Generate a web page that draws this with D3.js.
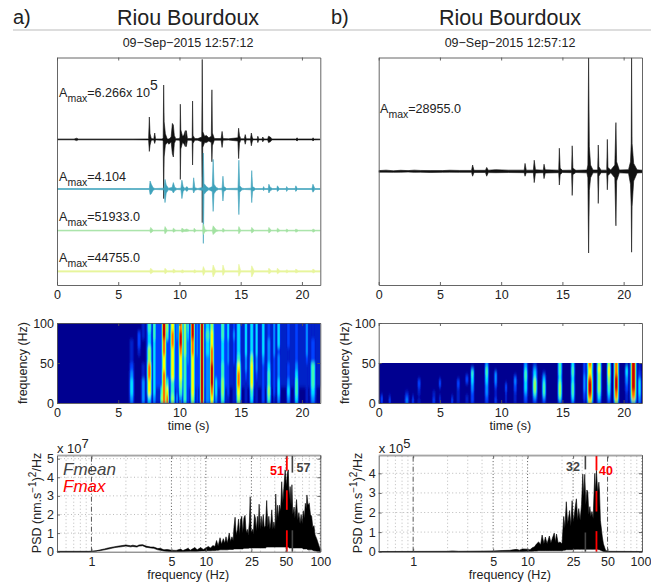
<!DOCTYPE html>
<html>
<head>
<meta charset="utf-8">
<script src="https://cdn.jsdelivr.net/npm/d3@7"></script>
<style>
html, body { margin: 0; padding: 0; background: #fff; }
svg { display: block; }
text { font-family: "Liberation Sans", Arial, sans-serif; fill: #222; }
.axis path, .axis line { stroke: #555; stroke-width: 0.9; }
.axis text { font-size: 12.5px; fill: #222; }
</style>
</head>
<body>
<div id="chart"></div>
<script>
// waveform envelopes: [time s, amplitude above baseline, amplitude below baseline]
var traceBlack = [[0,0.5,0.5],[1.4,0.5,0.5],[1.6,1.5,1.5],[1.75,0.5,0.5],[6.2,0.5,0.5],[7.48,0.6,0.6],[7.54,28,15],[7.6,7,7],[7.7,1,1],[7.9,0.6,0.6],[7.98,8,5],[8.05,0.6,0.6],[8.6,0.6,1],[8.67,2,2],[8.71,68,74],[8.75,22,22],[8.85,7,7],[9,0.6,4],[9.15,0.6,6],[9.32,3,3],[9.42,20,18],[9.5,18,22],[9.58,5,5],[9.7,0.8,0.8],[10,1,1],[10.04,3,3],[10.07,44,50],[10.11,12,12],[10.25,4,4],[10.35,5,5],[10.48,11,9],[10.52,2,2],[10.56,11,9],[10.65,1,1],[11,1,1],[11.04,3,3],[11.07,48,32],[11.11,5,5],[11.25,1,1],[11.5,1,1],[11.82,3,3],[11.86,100,104],[11.9,10,10],[12.05,4,4],[12.2,5,4],[12.4,2,2],[12.6,4,4],[12.65,62,28],[12.69,8,8],[12.85,1,1],[13.4,1,1],[13.48,10,10],[13.56,1,1],[14,0.8,0.8],[14.77,2,2],[14.83,14,24],[14.9,5,5],[15,0.8,0.8],[15.3,0.8,0.8],[15.37,6,6],[15.45,0.8,0.8],[15.8,0.8,0.8],[15.87,8,8],[15.95,2,2],[16.05,0.6,0.6],[16.35,0.6,0.6],[16.4,4,4],[16.48,0.6,0.6],[16.75,0.6,0.6],[16.8,3,3],[16.9,0.6,0.6],[17.2,0.6,0.6],[17.27,4,4],[17.42,3,3],[17.55,0.6,0.6],[19.5,0.6,0.6],[19.6,2,2],[19.7,0.6,0.6],[20.85,0.6,0.6],[20.9,2,2],[21,0.6,0.6],[21.5,0.5,0.5]];
var traceTeal = [[0,0.5,0.5],[7.54,0.6,0.6],[7.6,10,7],[7.7,6,6],[7.85,1.5,1.5],[8.0,0.6,0.6],[8.74,1,1],[8.82,12,17],[8.92,5,5],[9.1,1,1],[9.4,2,2],[9.5,8,5],[9.62,2,2],[9.8,0.6,0.6],[10.12,1,1],[10.2,11,12],[10.3,3,3],[10.45,0.6,0.6],[10.6,3,3],[10.75,0.6,0.6],[11.1,1,1],[11.16,14,5],[11.26,1.5,1.5],[11.5,0.6,0.6],[11.9,2,2],[11.95,45,68],[12,7,7],[12.2,3,3],[12.4,1,1],[12.68,3,3],[12.75,37,28],[12.82,6,6],[13,2,2],[13.2,0.6,0.6],[13.48,1,1],[13.55,16,15],[13.62,3,3],[13.85,0.6,0.6],[14.78,1,1],[14.85,36,32],[14.92,4,4],[15.1,1,1],[15.3,0.6,0.6],[15.85,1,1],[15.9,23,17],[15.97,3,3],[16.2,0.6,0.6],[16.82,0.6,0.6],[16.87,3,2],[16.95,0.6,0.6],[17.25,0.6,0.6],[17.3,6,5],[17.42,2,2],[17.6,0.6,0.6],[17.95,0.6,0.6],[18,4,3],[18.15,0.6,0.6],[18.72,0.6,0.6],[18.75,3,3],[18.85,0.6,0.6],[19.45,0.6,0.6],[19.5,4,3],[19.62,0.6,0.6],[20.82,0.6,0.6],[20.9,6,4],[21.05,0.6,0.6],[21.5,0.5,0.5]];
var traceGreen = [[0,0.5,0.5],[7.58,0.5,0.5],[7.65,4,3],[7.85,0.5,0.5],[8.77,0.5,0.5],[8.82,5,4],[9,0.5,0.5],[9.45,0.5,0.5],[9.5,3,2],[9.7,0.5,0.5],[10.15,0.5,0.5],[10.2,3,2],[10.4,1,1],[10.6,2,1],[10.8,0.5,0.5],[11.16,0.5,0.5],[11.2,3,2],[11.35,0.5,0.5],[11.9,0.5,0.5],[11.95,8,5],[12.1,1,1],[12.3,0.5,0.5],[12.68,0.5,0.5],[12.75,6,5],[13,1,1],[13.2,0.5,0.5],[13.5,0.5,0.5],[13.55,3,2],[13.7,0.5,0.5],[14.8,0.5,0.5],[14.85,5,4],[15,0.5,0.5],[15.85,0.5,0.5],[15.9,4,3],[16.1,0.5,0.5],[17.25,0.5,0.5],[17.3,4,3],[17.5,0.5,0.5],[17.95,0.5,0.5],[18,3,2],[18.2,0.5,0.5],[18.7,0.5,0.5],[18.75,2,2],[18.9,0.5,0.5],[19.45,0.5,0.5],[19.5,2,2],[19.7,0.5,0.5],[20.85,0.5,0.5],[20.9,2,2],[21.1,0.5,0.5],[21.5,0.5,0.5]];
var traceYellow = [[0,0.9,0.9],[7.58,0.9,0.9],[7.65,4,3],[7.85,0.9,0.9],[8.77,0.9,0.9],[8.82,4,3],[9,0.9,0.9],[9.45,0.9,0.9],[9.5,3,2],[9.7,0.9,0.9],[10.15,0.9,0.9],[10.2,2,2],[10.4,0.9,0.9],[11.15,0.9,0.9],[11.2,2,2],[11.4,0.9,0.9],[11.88,0.9,0.9],[11.95,6,5],[12.1,0.9,0.9],[12.68,0.9,0.9],[12.75,8,7],[12.95,0.9,0.9],[13.5,0.9,0.9],[13.55,8,5],[13.7,0.9,0.9],[14.8,0.9,0.9],[14.85,9,6],[15,0.9,0.9],[15.85,0.9,0.9],[15.9,7,7],[16.1,0.9,0.9],[17.25,0.9,0.9],[17.3,4,3],[17.5,0.9,0.9],[17.95,0.9,0.9],[18,4,3],[18.2,0.9,0.9],[18.7,0.9,0.9],[18.75,2,2],[18.9,0.9,0.9],[19.45,0.9,0.9],[19.5,3,2],[19.7,0.9,0.9],[20.85,0.9,0.9],[20.9,3,2],[21.1,0.9,0.9],[21.5,0.9,0.9]];
var traceB = [[0,1,1],[0.6,1.6,1],[1.2,0.8,1.2],[1.8,1.4,1],[2.4,1,0.8],[2.9,1.6,1.2],[3.4,1.2,1],[4.2,1,1.4],[5.2,1,1.2],[5.8,1.5,1],[6.6,1.2,1.2],[7.58,1.2,1.2],[7.67,8,6],[7.78,1.4,1.4],[8.72,1.4,1.4],[8.82,5,6],[8.95,1.5,1.5],[9.55,2.2,1.6],[10.6,1.6,1.4],[11.88,1.6,1.6],[11.95,10,6],[12.05,1.6,1.6],[12.63,1.6,1.6],[12.7,14,14],[12.8,2,2],[13.44,1.6,1.6],[13.5,9,9],[13.6,2,2],[14.7,1.6,1.6],[14.75,29,17],[14.82,4,4],[15,1.4,1.4],[15.75,1.6,1.6],[15.8,32,30],[15.86,4,4],[16.1,1.4,1.4],[17,1.8,1.8],[17.08,8,8],[17.14,142,102],[17.2,31,24],[17.3,8,8],[17.5,1.8,1.8],[17.88,1.8,1.8],[17.93,33,40],[17.98,6,6],[18.15,1.6,1.6],[18.62,1.6,1.6],[18.67,40,23],[18.72,5,5],[18.95,1.8,1.8],[19.28,8,8],[19.37,61,68],[19.43,12,12],[19.65,1.8,1.8],[20.4,2.2,2.2],[20.56,12,16],[20.62,35,44],[20.65,142,101],[20.69,35,44],[20.82,10,12],[21.1,2,2],[21.5,1.6,1.6]];
var traceBase = [182, 120, 68, 17];
var traceBaseB = [142];
var traceColors = ["#111111", "#3fa3bc", "#a3e2a2", "#e8f59c"];

var amaxValues = ["=6.266x 10", "=4.104", "=51933.0", "=44755.0"];
var amaxValuesB = ["=28955.0"];

// spectrogram streaks: [time s, width s, one digit per frequency band low to high]
var specA = [[14.5,14.5,"0011111111"],[11,6,"1122222222"],[6.1,0.28,"3443211100"],[6.7,0.22,"0000001220"],[7.05,0.25,"3331100011"],[7.54,0.3,"4778866445"],[7.95,0.22,"3444444455"],[8.55,0.2,"6522112222"],[8.74,0.3,"8888778899"],[9,0.22,"8752222256"],[9.44,0.3,"6557777887"],[9.8,0.15,"3222122233"],[10.1,0.28,"3567778998"],[10.45,0.26,"5555556666"],[10.7,0.12,"2222233345"],[11.08,0.28,"6777778899"],[11.45,0.12,"2222223333"],[11.84,0.26,"9999999999"],[12.3,0.35,"3333334454"],[12.65,0.28,"7899988776"],[13,0.2,"3442222222"],[13.53,0.28,"5665544455"],[13.98,0.18,"1222233344"],[14.45,0.2,"1111122232"],[14.83,0.3,"6788754444"],[15.43,0.2,"1112334444"],[15.9,0.26,"4577764444"],[16.3,0.18,"1112334444"],[16.84,0.22,"2222234444"],[17.3,0.26,"5655433322"],[17.74,0.18,"1222223333"],[18.1,0.22,"3443332444"],[18.9,0.24,"3432211222"],[19.56,0.26,"4554322222"],[20.4,0.2,"1111123333"],[20.9,0.34,"3455522211"]];
var specB = [[0.25,0.15,"2200000000"],[0.9,0.15,"2100000000"],[2.3,0.25,"3210000000"],[2.8,0.15,"2100000000"],[3.3,0.2,"1011220000"],[4.5,0.2,"2110000000"],[5,0.15,"1100220000"],[6,0.15,"2100000000"],[6.5,0.2,"1111220000"],[7.2,0.2,"1100022000"],[7.65,0.22,"2223344530"],[8.82,0.24,"2233344553"],[9.55,0.18,"2111233300"],[10.4,0.15,"1112200000"],[11.15,0.2,"1112232000"],[12,0.25,"2234445543"],[12.75,0.28,"2356664431"],[13.5,0.24,"2355543100"],[14.8,0.26,"3566654555"],[15.85,0.24,"3455544554"],[16.8,0.18,"1223333222"],[17.25,0.36,"7899998778"],[18,0.28,"3456666676"],[18.8,0.24,"2345566776"],[19.4,0.3,"6889999888"],[20.25,0.22,"1112233441"],[20.8,0.36,"5889999999"],[21.3,0.2,"3344442211"]];
var jetStops = [0, 2, 4, 5.5, 7, 8, 9];
var jetColors = ["#000090", "#0040ff", "#00e0ff", "#60ff90", "#ffff00", "#ff7000", "#c80000"];
// each streak is painted as nested cells so it fades through the colour map
var streakLevels = [0.2, 0.45, 0.7, 0.88, 1];
var streakWidths = [1.8, 1.35, 1, 0.78, 0.55];

// PSD envelopes: [frequency Hz, upper, lower] in units of the axis multiplier
var psdA = [[0.5,0.02,0],[0.95,0.02,0],[1,0.03,0.01],[1.1,0.05,0.03],[1.2,0.1,0.06],[1.3,0.15,0.1],[1.4,0.2,0.14],[1.6,0.27,0.22],[1.8,0.32,0.26],[2,0.36,0.3],[2.2,0.32,0.26],[2.3,0.35,0.28],[2.5,0.3,0.25],[2.6,0.36,0.3],[2.8,0.38,0.32],[3,0.3,0.24],[3.3,0.25,0.2],[3.5,0.25,0.18],[3.8,0.17,0.1],[4,0.18,0.08],[4.3,0.1,0.04],[4.6,0.12,0.02],[5,0.08,0.01],[5.5,0.07,0.01],[6,0.14,0.01],[6.3,0.06,0.01],[7,0.18,0.02],[7.3,0.08,0.02],[8,0.22,0.02],[8.4,0.1,0.02],[9,0.22,0.04],[9.5,0.12,0.04],[10,0.2,0.05],[10.5,0.28,0.05],[11,0.2,0.05],[11.5,0.33,0.06],[12,0.28,0.06],[12.4,0.6,0.08],[12.8,0.3,0.08],[13.3,0.75,0.1],[13.7,0.4,0.1],[14.2,0.7,0.1],[14.6,0.45,0.1],[15,0.8,0.1],[15.4,0.45,0.1],[16,1,0.12],[16.4,0.55,0.12],[16.9,0.8,0.12],[17.3,0.6,0.12],[17.6,1.3,0.15],[18,1.85,0.15],[18.4,0.9,0.15],[18.9,1.2,0.15],[19.3,1.75,0.15],[19.7,0.9,0.15],[20.1,1.7,0.15],[20.6,1.9,0.15],[21,1,0.15],[21.5,1.8,0.18],[22,1.95,0.18],[22.5,1,0.18],[23,1.2,0.18],[23.5,0.9,0.18],[24,1.6,0.2],[24.4,2.95,0.2],[24.9,1,0.2],[25.5,1.2,0.2],[26,0.95,0.2],[26.6,2,0.2],[27.1,1.8,0.2],[27.6,1.1,0.2],[28.2,1.9,0.2],[28.7,1.2,0.2],[29.2,2.55,0.2],[29.8,1.2,0.2],[30.4,1.9,0.2],[31,1.3,0.2],[31.7,2,0.2],[32.4,1.3,0.2],[33.2,1.4,0.2],[34,2.75,0.25],[34.8,1.3,0.25],[35.5,1.9,0.25],[36.3,1.2,0.25],[37,1.6,0.25],[37.7,2.25,0.25],[38.5,1.2,0.25],[39.3,1.6,0.25],[40.2,1.2,0.25],[40.8,3.1,0.25],[41.6,1.6,0.25],[42.4,2.5,0.25],[43.2,1.8,0.25],[44,2.5,0.25],[45,2.2,0.25],[46,3.76,0.25],[47,2.6,0.25],[48,3.4,0.25],[49.3,4.4,0.25],[50.5,3.5,0.25],[51.5,4.2,0.25],[52.5,4.4,0.25],[53.5,2.8,0.2],[54.5,3.5,0.2],[55.5,2.5,0.2],[56.5,3.6,0.2],[57.5,2,0.2],[59,2.4,0.2],[60,1.8,0.2],[61,2.3,0.2],[62,2.8,0.2],[63.5,1.7,0.2],[65,2.1,0.2],[66.5,1.5,0.2],[68,2,0.2],[69.5,1.5,0.2],[71,2.2,0.15],[72.5,1.8,0.15],[74,2.6,0.15],[75.5,2.3,0.15],[76.4,3.05,0.15],[78,2.5,0.1],[80,2.6,0.1],[82,2,0.1],[84,1.9,0.1],[86,1.3,0.08],[88,1.4,0.05],[90,0.9,0.05],[93,0.7,0.03],[97,0.35,0.02],[100,0.12,0.01]];
var psdB = [[0.5,0.01,0],[2,0.02,0],[2.2,0.04,0],[2.5,0.02,0],[4,0.03,0],[5,0.04,0],[6,0.06,0.01],[7,0.07,0.01],[8,0.12,0.01],[8.5,0.08,0.01],[9,0.14,0.01],[10,0.13,0.02],[10.5,0.1,0.02],[11,0.2,0.02],[11.5,0.25,0.03],[12,0.4,0.03],[12.5,0.5,0.05],[13,0.35,0.05],[13.4,0.85,0.05],[13.9,0.4,0.05],[14.3,0.75,0.05],[14.8,0.4,0.05],[15.5,0.8,0.05],[16,0.45,0.05],[16.5,0.7,0.05],[17.1,0.95,0.05],[17.5,0.5,0.05],[17.9,0.9,0.05],[18.5,0.45,0.05],[19.2,0.5,0.05],[20,0.4,0.05],[20.7,1.8,0.08],[21.2,1.2,0.08],[21.8,2.55,0.1],[22.4,1.4,0.1],[23.3,2.1,0.1],[23.9,1.3,0.1],[24.5,2.6,0.1],[25.2,1.5,0.12],[26,2.2,0.12],[26.7,2.7,0.12],[27.4,1.6,0.12],[28,2.2,0.12],[28.8,1.6,0.12],[29.6,2.4,0.12],[30.4,3.96,0.12],[31,2.8,0.12],[31.6,3.95,0.12],[32.3,2.4,0.12],[33,3.15,0.12],[33.6,3.05,0.12],[34.3,1.9,0.12],[35,2.3,0.12],[35.7,1.8,0.12],[36.5,2.05,0.12],[37.4,1.7,0.12],[38.1,3,0.12],[38.7,4,0.12],[39.3,3,0.12],[40,4.15,0.12],[41,3,0.12],[42,3.55,0.1],[42.5,3.1,0.1],[43.3,1.6,0.08],[45,0.75,0.03],[46,0.4,0.01],[48,0.08,0],[50,0.02,0],[100,0.01,0]];
var psdTicksX = [1, 5, 10, 25, 50, 100];
var psdMajorGrid = [1];
var psdMajorGridB = [1, 50];
var psdMidGrid = [5, 10, 25, 50, 100];
var psdMidGridB = [5, 10, 25, 100];
var psdMinorGrid = [0.6, 0.7, 0.8, 0.9, 2, 3, 4, 6, 7, 8, 9, 20, 30, 40, 60, 70, 80, 90];
var psdTicksYA = [0, 1, 2, 3, 4, 5];
var psdTicksYB = [0, 1, 2, 3, 4];

// marker lines, pieces of [top, bottom] left visible by the spectrum
var fmaxPiecesA = [[5.2, 4.35], [3.3, 2.25], [1.15, 0]];
var fmeanPiecesA = [[5.2, 4.25], [1.15, 0]];
var fmaxPiecesB = [[4.92, 4.15], [3.1, 2.05], [1.05, 0]];
var fmeanPiecesB = [[4.92, 4.2], [0.98, 0]];

var width = 651, height = 587;
var panelW = 263.3;
var timeTicks = [0, 5, 10, 15, 20];

var svg = d3.select("#chart").append("svg")
    .attr("width", width)
    .attr("height", height);

var defs = svg.append("defs");
defs.append("filter")
    .attr("id", "streakBlur")
    .attr("filterUnits", "userSpaceOnUse")
    .attr("x", 0).attr("y", 300).attr("width", width).attr("height", 130)
    .append("feGaussianBlur")
    .attr("stdDeviation", "0.45 2");

var jet = d3.scaleLinear().domain(jetStops).range(jetColors);

function frameAxes(g, x, y, ticksX, ticksY, labelY) {
    var w = x.range()[1] - x.range()[0];
    var top = y.range()[1], bottom = y.range()[0];
    var xBottom = d3.axisBottom(x).tickValues(ticksX).tickFormat(d3.format("d")).tickSizeInner(-3).tickSizeOuter(0).tickPadding(5);
    var xTop = d3.axisTop(x).tickValues(ticksX).tickFormat("").tickSizeInner(-3).tickSizeOuter(0);
    g.append("g").attr("class", "axis").attr("transform", `translate(0,${bottom})`).call(xBottom);
    g.append("g").attr("class", "axis").attr("transform", `translate(0,${top})`).call(xTop);
    var yLeft = d3.axisLeft(y).tickValues(ticksY).tickFormat(labelY ? d3.format("d") : "").tickSizeInner(-3).tickSizeOuter(0).tickPadding(3);
    var yRight = d3.axisRight(y).tickValues(ticksY).tickFormat("").tickSizeInner(-3).tickSizeOuter(0);
    g.append("g").attr("class", "axis").attr("transform", `translate(${x.range()[0]},0)`).call(yLeft);
    g.append("g").attr("class", "axis").attr("transform", `translate(${x.range()[0] + w},0)`).call(yRight);
}

function drawAmax(g, xPos, yPos, value, sup) {
    var t = g.append("text").attr("x", xPos).attr("y", yPos).style("font-size", "12.6px");
    t.append("tspan").text("A");
    t.append("tspan").attr("dy", 5).style("font-size", "10.5px").text("max");
    t.append("tspan").attr("dy", -5).text(value);
    if (sup) t.append("tspan").attr("dy", -7).style("font-size", "14px").text(sup);
}

function rotated(g, xPos, yPos, parts) {
    var t = g.append("text").attr("transform", `translate(${xPos},${yPos}) rotate(-90)`)
        .attr("text-anchor", "middle").style("font-size", "12.5px");
    parts.forEach(p => {
        var s = t.append("tspan").text(p[0]);
        if (p[1]) s.attr("dy", p[1]);
        if (p[2]) s.style("font-size", p[2]);
    });
}

function drawWaveforms(id, left, traces, bases, colors) {
    var g = svg.append("g");
    var x = d3.scaleLinear().domain([0, 21.5]).range([left, left + panelW]);
    var y = d3.scaleLinear().domain([0, 284.4]).range([285, 57.5]);
    defs.append("clipPath").attr("id", "clipWave" + id).append("rect")
        .attr("x", left).attr("y", 57.5).attr("width", panelW).attr("height", 227.5);
    var plot = g.append("g").attr("clip-path", `url(#clipWave${id})`);
    traces.forEach((trace, i) => {
        var area = d3.area()
            .x(d => x(d[0]))
            .y0(d => y(bases[i] - d[2]))
            .y1(d => y(bases[i] + d[1]));
        plot.append("path")
            .datum(trace)
            .attr("d", area)
            .attr("fill", colors[i])
            .attr("stroke", colors[i])
            .attr("stroke-width", 0.6);
    });
    frameAxes(g, x, y, timeTicks, [], false);
}

function drawSpec(id, left, streaks, maxFreq) {
    var g = svg.append("g");
    var x = d3.scaleLinear().domain([0, 21.5]).range([left, left + panelW]);
    var y = d3.scaleLinear().domain([0, 100]).range([403, 323]);
    var step = maxFreq / 10;
    defs.append("clipPath").attr("id", "clipSpec" + id).append("rect")
        .attr("x", left).attr("y", y(maxFreq)).attr("width", panelW).attr("height", y(0) - y(maxFreq));
    var plot = g.append("g").attr("clip-path", `url(#clipSpec${id})`);
    plot.append("rect")
        .attr("x", left).attr("y", y(maxFreq)).attr("width", panelW).attr("height", y(0) - y(maxFreq))
        .attr("fill", jet(0));
    var cells = [];
    streaks.forEach(s => {
        s[2].split("").forEach((digit, band) => {
            if (digit === "0") return;
            if (s[1] > 2) {
                cells.push({t: s[0], w: s[1], band: band, v: +digit});
            } else {
                streakLevels.forEach((level, k) => {
                    cells.push({t: s[0], w: s[1] * streakWidths[k], band: band, v: +digit * level});
                });
            }
        });
    });
    cells.sort((a, b) => a.v - b.v);
    plot.append("g").attr("filter", "url(#streakBlur)")
        .selectAll("rect").data(cells).enter().append("rect")
        .attr("x", d => x(d.t - d.w / 2))
        .attr("width", d => x(d.w) - x(0))
        .attr("y", d => y((d.band + 1) * step) - (d.band === 9 ? 8 : 0))
        .attr("height", d => y(0) - y(step) + 0.4 + (d.band === 9 ? 8 : 0))
        .attr("fill", d => jet(d.v));
    frameAxes(g, x, y, timeTicks, [0, 50, 100], true);
    g.append("text").attr("x", left + panelW / 2).attr("y", 430)
        .attr("text-anchor", "middle").style("font-size", "12.5px").text("time (s)");
}

function drawPsd(id, left, psd, yMax, ticksY, exponent, majors, mids, marks) {
    var g = svg.append("g");
    var x = d3.scaleLog().domain([0.5, 100]).range([left, left + panelW]);
    var y = d3.scaleLinear().domain([0, yMax]).range([551.7, 455.3]);

    g.selectAll("line.minor").data(psdMinorGrid).enter().append("line")
        .attr("x1", d => x(d)).attr("x2", d => x(d))
        .attr("y1", y(0)).attr("y2", y(yMax))
        .attr("stroke", "#aaa").attr("stroke-width", 0.8).attr("stroke-dasharray", "1 2.5");
    g.selectAll("line.hgrid").data(ticksY.slice(1)).enter().append("line")
        .attr("x1", left).attr("x2", left + panelW)
        .attr("y1", d => y(d)).attr("y2", d => y(d))
        .attr("stroke", "#aaa").attr("stroke-width", 0.8).attr("stroke-dasharray", "1 2.5");
    g.selectAll("line.mid").data(mids).enter().append("line")
        .attr("x1", d => x(d)).attr("x2", d => x(d))
        .attr("y1", y(0)).attr("y2", y(yMax))
        .attr("stroke", "#444").attr("stroke-width", 0.9).attr("stroke-dasharray", "1 2.2");
    g.selectAll("line.major").data(majors).enter().append("line")
        .attr("x1", d => x(d)).attr("x2", d => x(d))
        .attr("y1", y(0)).attr("y2", y(yMax))
        .attr("stroke", "#444").attr("stroke-width", 0.9).attr("stroke-dasharray", "5 2 1 2");

    var area = d3.area()
        .x(d => x(d[0]))
        .y0(d => y(d[2]))
        .y1(d => y(d[1]));
    g.append("path").datum(psd)
        .attr("d", area)
        .attr("fill", "#000")
        .attr("stroke", "#000")
        .attr("stroke-width", 0.6);

    marks.forEach(m => {
        g.selectAll(null).data(m.pieces).enter().append("line")
            .attr("x1", x(m.f)).attr("x2", x(m.f))
            .attr("y1", d => y(d[0])).attr("y2", d => y(d[1]))
            .attr("stroke", m.color).attr("stroke-width", m.sw);
        g.append("text").attr("x", m.tx).attr("y", m.ty).attr("text-anchor", m.anchor)
            .style("font-size", "12.5px").style("font-weight", "bold").style("fill", m.color)
            .text(m.label);
    });

    frameAxes(g, x, y, psdTicksX, ticksY, true);
    g.append("rect").attr("x", left).attr("y", 454.6).attr("width", panelW).attr("height", 1.2).attr("fill", "#aaa");

    var ex = g.append("text").attr("x", left).attr("y", 453).style("font-size", "13px");
    ex.append("tspan").text("x 10");
    ex.append("tspan").attr("dy", -5).style("font-size", "13px").text(exponent);

    g.append("text").attr("x", left + panelW / 2 - 0.5).attr("y", 579)
        .attr("text-anchor", "middle").style("font-size", "12.5px").text("frequency (Hz)");
    return g;
}

var leftA = 57, leftB = 378.7;
svg.append("text").attr("x", 13).attr("y", 24).style("font-size", "20px").text("a)");
svg.append("text").attr("x", 188).attr("y", 25).attr("text-anchor", "middle").style("font-size", "21.5px").text("Riou Bourdoux");
svg.append("text").attr("x", 331).attr("y", 24).style("font-size", "20px").text("b)");
svg.append("text").attr("x", 510).attr("y", 25).attr("text-anchor", "middle").style("font-size", "21.5px").text("Riou Bourdoux");
svg.append("line").attr("x1", 13).attr("x2", width).attr("y1", 30).attr("y2", 30).attr("stroke", "#bbb").attr("stroke-width", 1);
svg.append("text").attr("x", 188).attr("y", 47).attr("text-anchor", "middle").style("font-size", "12.5px").text("09\u2212Sep\u22122015 12:57:12");
svg.append("text").attr("x", 510).attr("y", 47).attr("text-anchor", "middle").style("font-size", "12.5px").text("09\u2212Sep\u22122015 12:57:12");

drawWaveforms("A", leftA, [traceBlack, traceTeal, traceGreen, traceYellow], traceBase, traceColors);
drawWaveforms("B", leftB, [traceB], traceBaseB, [traceColors[0]]);

var amaxGroup = svg.append("g");
drawAmax(amaxGroup, 59, 97, amaxValues[0], "5");
drawAmax(amaxGroup, 59, 180.5, amaxValues[1]);
drawAmax(amaxGroup, 59, 221, amaxValues[2]);
drawAmax(amaxGroup, 59, 262, amaxValues[3]);
drawAmax(amaxGroup, 380, 113, amaxValuesB[0]);

drawSpec("A", leftA, specA, 100);
drawSpec("B", leftB, specB, 50);
rotated(svg, 27, 363, [["frequency (Hz)"]]);
rotated(svg, 349, 363, [["frequency (Hz)"]]);

drawPsd("A", leftA, psdA, 5.18, psdTicksYA, "7", psdMajorGrid, psdMidGrid, [
    {f: 57, pieces: fmeanPiecesA, color: "#444", sw: 1.6, label: "57", tx: 296.5, ty: 472, anchor: "start"},
    {f: 51, pieces: fmaxPiecesA, color: "#f00", sw: 1.8, label: "51", tx: 284, ty: 474.5, anchor: "end"}
]);
var psdPanelB = drawPsd("B", leftB, psdB, 4.92, psdTicksYB, "5", psdMajorGridB, psdMidGridB, [
    {f: 32, pieces: fmeanPiecesB, color: "#444", sw: 1.6, label: "32", tx: 580, ty: 471, anchor: "end"},
    {f: 40, pieces: fmaxPiecesB, color: "#f00", sw: 1.8, label: "40", tx: 599, ty: 474.5, anchor: "start"}
]);
// the last tick label would run off the page
psdPanelB.selectAll(".axis .tick text").filter(d => d === 100).attr("dx", -1.6);
rotated(svg, 41, 503, [["PSD (nm.s"], ["\u22121", -5, "10px"], [")", 5], ["2", -5, "10px"], ["/Hz", 5]]);
rotated(svg, 362, 503, [["PSD (nm.s"], ["\u22121", -5, "10px"], [")", 5], ["2", -5, "10px"], ["/Hz", 5]]);

svg.append("text").attr("x", 63).attr("y", 475).style("font-size", "17px").style("font-style", "italic").style("fill", "#444").text("Fmean");
svg.append("text").attr("x", 63).attr("y", 492).style("font-size", "17px").style("font-style", "italic").style("fill", "#f00").text("Fmax");
</script>
</body>
</html>
